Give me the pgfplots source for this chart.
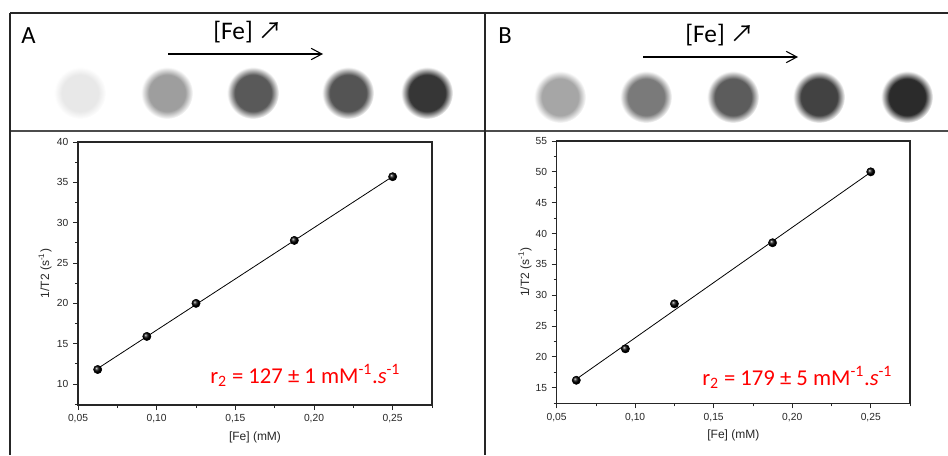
\documentclass[border=0pt]{standalone}
\usepackage{pgfplots}
\pgfplotsset{compat=1.18}
\usepackage{fontspec}
\setmainfont{Carlito}
\newfontfamily\arial{Liberation Sans}
\newfontfamily\arrowfont{Noto Sans CJK SC}
\usetikzlibrary{arrows.meta}

\newcommand\declblob[2]{\pgfdeclareradialshading{#1}{\pgfpointorigin}{rgb(0bp)=(#2,#2,#2); rgb(17.5bp)=(#2,#2,#2); rgb(25bp)=(1,1,1); rgb(50bp)=(1,1,1)}}
\declblob{bA1}{0.91}\declblob{bA2}{0.62}\declblob{bA3}{0.35}\declblob{bA4}{0.33}\declblob{bA5}{0.21}
\declblob{bB1}{0.65}\declblob{bB2}{0.48}\declblob{bB3}{0.36}\declblob{bB4}{0.26}\declblob{bB5}{0.17}

\pgfplotstableread{
x y
0.0625 11.8
0.09375 15.9
0.125 20.0
0.1875 27.8
0.25 35.7
}\dataA
\pgfplotstableread{
x y
0.0625 11.92
0.25 35.73
}\fitA
\pgfplotstableread{
x y
0.0625 16.2
0.09375 21.3
0.125 28.6
0.1875 38.5
0.25 50.0
}\dataB
\pgfplotstableread{
x y
0.0625 16.38
0.25 49.94
}\fitB

\pgfplotsset{mystyle/.style={
  scale only axis, anchor=south west,
  xmin=0.05, xmax=0.275,
  xtick={0.05,0.10,0.15,0.20,0.25},
  minor xtick={0.075,0.125,0.175,0.225,0.275},
  tick align=outside, xtick pos=left, ytick pos=left,
  major tick length=3.75pt, minor tick length=2.25pt,
  axis line style={line width=0.8pt, black!85},
  every tick/.style={black!85, line width=0.6pt},
  /pgf/number format/assume math mode=true,
  tick label style={font=\arial\fontsize{7.7}{9}\selectfont, text=black!85},
  xticklabel style={/pgf/number format/.cd, use comma, fixed, fixed zerofill, precision=2},
  yticklabel style={/pgf/number format/.cd, fixed, precision=0},
  label style={font=\arial\fontsize{9}{10}\selectfont, text=black!85},
  xlabel={[Fe] (mM)}, ylabel={1/T2 (s\textsuperscript{-1})},
}}

\begin{document}
\begin{tikzpicture}[x=0.75pt,y=0.75pt]
\useasboundingbox (0,0) rectangle (948,455);
% frames
\draw[line width=1pt, black!85] (10,442) -- (948,442);
\draw[line width=1.1pt, black!70] (10,324) -- (948,324);
\draw[line width=1pt, black!85] (10,442) -- (10,0);
\draw[line width=1pt, black!85] (485,442) -- (485,0);
% labels
\node[font=\fontsize{18.5}{20}\selectfont] at (28.5,419) {A};
\node[font=\fontsize{18.5}{20}\selectfont] at (505,419) {B};
\node[font=\fontsize{19}{20}\selectfont] at (248,423) {[Fe] {\arrowfont\fontsize{18}{20}\selectfont ↗}};
\node[font=\fontsize{19}{20}\selectfont] at (720,420) {[Fe] {\arrowfont\fontsize{18}{20}\selectfont ↗}};
\draw[line width=0.8pt, -{Straight Barb[length=8pt,width=8.5pt]}] (168,401) -- (323,401);
\draw[line width=0.8pt, -{Straight Barb[length=8pt,width=8.5pt]}] (643,398) -- (798,398);
% blobs
\shade[shading=bA1] (80,362) circle (26);
\shade[shading=bA2] (167,362) circle (26);
\shade[shading=bA3] (253,362) circle (26);
\shade[shading=bA4] (348,362) circle (26);
\shade[shading=bA5] (427,362) circle (26);
\shade[shading=bB1] (560,358) circle (26);
\shade[shading=bB2] (646,358) circle (26);
\shade[shading=bB3] (733,358) circle (26);
\shade[shading=bB4] (819,358) circle (26);
\shade[shading=bB5] (907,358) circle (26);

\begin{axis}[mystyle, at={(58.5pt,37.5pt)}, width=265.5pt, height=197.25pt,
  ymin=7.4, ymax=40, ytick={10,15,...,40}, minor ytick={7.5,12.5,...,37.5},
  xlabel style={at={(axis description cs:0.5,-0.1217)}, anchor=center},
  ylabel style={at={(axis description cs:-0.093,0.5)}, anchor=center}]
\addplot[black, line width=0.6pt] table {\fitA};
\addplot[only marks, mark=ball, mark size=3.1pt, mark options={ball color=black}] table {\dataA};
\end{axis}

\begin{axis}[mystyle, at={(417.5pt,38.8pt)}, width=265pt, height=196.7pt,
  ymin=12.47, ymax=55, ytick={15,20,...,55}, minor ytick={12.5,17.5,...,52.5},
  xlabel style={at={(axis description cs:0.5,-0.121)}, anchor=center},
  ylabel style={at={(axis description cs:-0.0897,0.5)}, anchor=center}]
\addplot[black, line width=0.6pt] table {\fitB};
\addplot[only marks, mark=ball, mark size=3.1pt, mark options={ball color=black}] table {\dataB};
\end{axis}

\node[anchor=base west, text=red, font=\fontsize{17}{18}\selectfont, inner sep=0pt] at (210,72) {r\textsubscript{2} = 127 ± 1 mM\textsuperscript{-1}.\textit{s}\textsuperscript{-1}};
\node[anchor=base west, text=red, font=\fontsize{17}{18}\selectfont, inner sep=0pt] at (702,70) {r\textsubscript{2} = 179 ± 5 mM\textsuperscript{-1}.\textit{s}\textsuperscript{-1}};
\end{tikzpicture}
\end{document}
